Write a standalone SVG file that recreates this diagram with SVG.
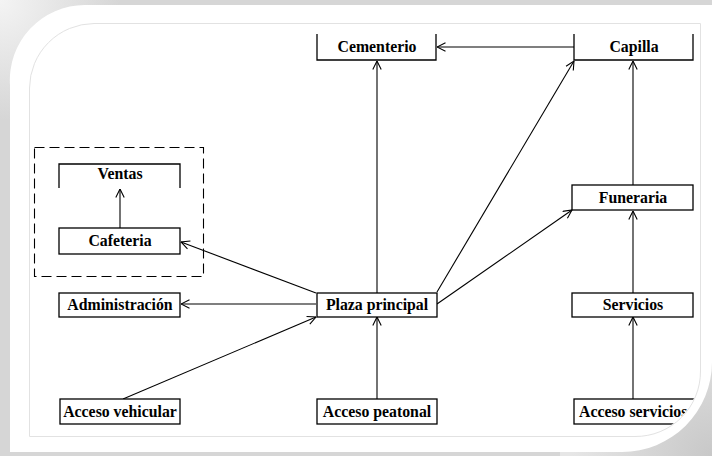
<svg xmlns="http://www.w3.org/2000/svg" width="712" height="456" viewBox="0 0 712 456">
<defs>
<radialGradient id="tl" cx="0" cy="0" r="120" gradientUnits="userSpaceOnUse">
<stop offset="0" stop-color="#f4f4f4"/>
<stop offset="1" stop-color="#d6d6d6"/>
</radialGradient>
<radialGradient id="br" cx="712" cy="456" r="140" gradientUnits="userSpaceOnUse">
<stop offset="0" stop-color="#c8c8c8"/>
<stop offset="1" stop-color="#e6e6e6"/>
</radialGradient>
<clipPath id="inner">
<path d="M29,88 A65,65 0 0 1 94,23 L700,23 L700,371 A65,65 0 0 1 635,436 L29,436 Z"/>
</clipPath>
<marker id="ah" viewBox="0 0 10 10" refX="9.5" refY="5" markerWidth="10" markerHeight="10" markerUnits="userSpaceOnUse" orient="auto">
<path d="M1,0.8 L9.5,5 L1,9.2" fill="none" stroke="#000" stroke-width="1.1"/>
</marker>
<style>
.box{fill:#fff;stroke:#000;stroke-width:1.3}
.open{fill:none;stroke:#000;stroke-width:1.3}
.lbl{font-family:"Liberation Serif","Times New Roman",serif;font-weight:bold;font-size:15.8px;fill:#000;text-anchor:middle}
.edge{fill:none;stroke:#000;stroke-width:1.1;marker-end:url(#ah)}
</style>
</defs>
<rect x="0" y="0" width="712" height="456" fill="#d8d8d8"/>
<rect x="0" y="0" width="712" height="456" fill="url(#tl)"/>
<rect x="560" y="300" width="152" height="156" fill="url(#br)"/>
<path d="M10,85 A75,75 0 0 1 85,5 L712,5 L712,362 A90,90 0 0 1 622,452 L10,452 Z" fill="#fff"/>
<path d="M29.5,88 A65,65 0 0 1 94,23.5 L700.5,23.5 L700.5,371 A65,65 0 0 1 635,436.5 L29.5,436.5 Z" fill="none" stroke="#e2e2e2" stroke-width="1"/>
<g clip-path="url(#inner)">
<rect id="grupo-cafeteria" x="34.5" y="147.5" width="169" height="129" fill="none" stroke="#000" stroke-width="1.1" stroke-dasharray="10,5"/>
<g id="connectors">
<path class="edge" d="M377,293 L377,61"/>
<path class="edge" d="M574,47 L437,47"/>
<path class="edge" d="M437,292 L574,61"/>
<path class="edge" d="M437,304 L572,210"/>
<path class="edge" d="M633,185 L633,61"/>
<path class="edge" d="M633,293 L633,211"/>
<path class="edge" d="M633,399 L633,317"/>
<path class="edge" d="M377,399 L377,317"/>
<path class="edge" d="M123,399 L316,317"/>
<path class="edge" d="M316,304 L181,304"/>
<path class="edge" d="M316,293 L181,242"/>
<path class="edge" d="M120,228 L120,189"/>
</g>
<g id="cementerio"><path class="open" d="M317,34 L317,60 L436,60 L436,34"/><text class="lbl" x="377" y="52">Cementerio</text></g>
<g id="capilla"><path class="open" d="M574,34 L574,60 L693,60 L693,34"/><text class="lbl" x="634" y="52">Capilla</text></g>
<g id="ventas"><path class="open" d="M59,188 L59,164 L180,164 L180,188"/><text class="lbl" x="120" y="179">Ventas</text></g>
<g id="cafeteria"><rect class="box" x="59" y="228" width="121" height="26"/><text class="lbl" x="120" y="246">Cafeteria</text></g>
<g id="administracion"><rect class="box" x="59" y="293" width="121" height="24"/><text class="lbl" x="120" y="310">Administración</text></g>
<g id="plaza-principal"><rect class="box" x="317" y="293" width="120" height="24"/><text class="lbl" x="377" y="310">Plaza principal</text></g>
<g id="funeraria"><rect class="box" x="572" y="185" width="121" height="25"/><text class="lbl" x="633" y="203">Funeraria</text></g>
<g id="servicios"><rect class="box" x="572" y="293" width="121" height="24"/><text class="lbl" x="633" y="310">Servicios</text></g>
<g id="acceso-vehicular"><rect class="box" x="60" y="399" width="120" height="25"/><text class="lbl" x="120" y="417">Acceso vehicular</text></g>
<g id="acceso-peatonal"><rect class="box" x="317" y="399" width="120" height="25"/><text class="lbl" x="377" y="417">Acceso peatonal</text></g>
<g id="acceso-servicios"><rect class="box" x="574" y="399" width="125" height="25"/><text class="lbl" x="579" y="417" style="text-anchor:start">Acceso servicios</text></g>
</g>
</svg>
